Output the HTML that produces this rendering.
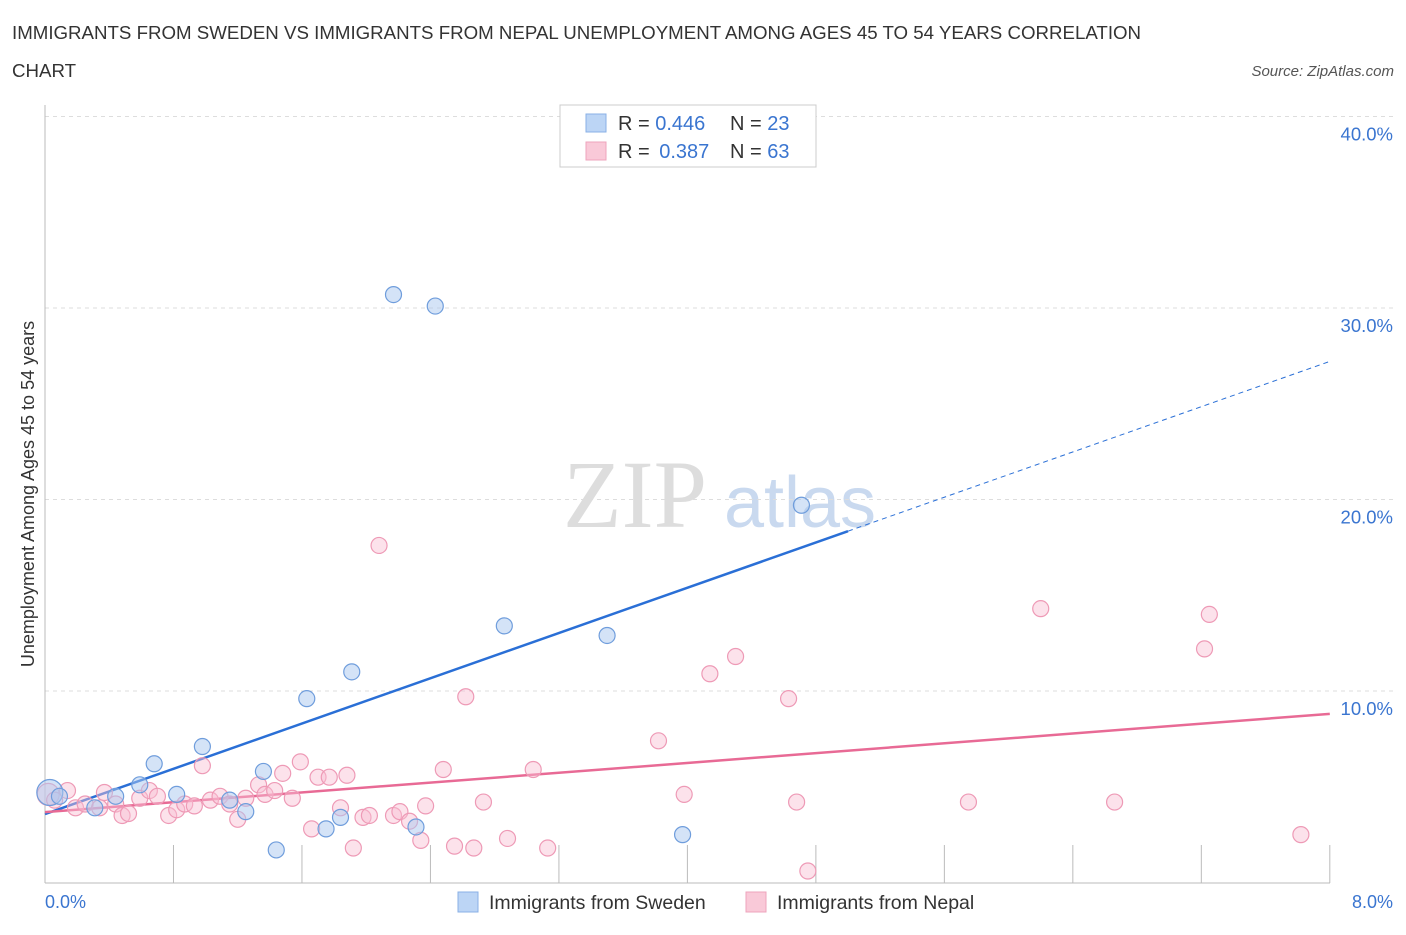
<!DOCTYPE html>
<html><head><meta charset="utf-8"><style>
body{margin:0;background:#fff;font-family:"Liberation Sans",sans-serif;}
</style></head><body>
<svg id="chart" width="1406" height="930" xmlns="http://www.w3.org/2000/svg">
<text x="12" y="39" font-size="18.7" fill="#333">IMMIGRANTS FROM SWEDEN VS IMMIGRANTS FROM NEPAL UNEMPLOYMENT AMONG AGES 45 TO 54 YEARS CORRELATION</text>
<text x="12" y="77" font-size="18.7" fill="#333">CHART</text>
<text x="1394" y="76" font-size="15" fill="#555" font-style="italic" text-anchor="end">Source: ZipAtlas.com</text>
<text x="635" y="527" font-size="96" fill="#ddd" font-family="Liberation Serif,serif" text-anchor="middle">ZIP</text>
<text x="800" y="527" font-size="72" fill="#c9d9ef" text-anchor="middle">atlas</text>
<g id="grid"></g><g id="axes"></g><g id="lines"></g><g id="pts"></g>
<text transform="translate(34,494) rotate(-90)" font-size="18" fill="#333" text-anchor="middle">Unemployment Among Ages 45 to 54 years</text>
<text x="45" y="908" font-size="18" fill="#3a75d0">0.0%</text>
<text x="1393" y="908" font-size="18" fill="#3a75d0" text-anchor="end">8.0%</text>
<g>
<rect x="560" y="105" width="256" height="62" fill="#fff" stroke="#ccc"/>
<rect x="586" y="114" width="20" height="18" fill="#bcd5f5" stroke="#8ab0e6"/>
<rect x="586" y="142" width="20" height="18" fill="#f9c9d8" stroke="#eea4bc"/>
<text x="618" y="130" font-size="20" fill="#333">R = <tspan fill="#3a75d0">0.446</tspan><tspan x="730">N = </tspan><tspan fill="#3a75d0">23</tspan></text>
<text x="618" y="158" font-size="20" fill="#333">R = <tspan fill="#3a75d0" dx="4">0.387</tspan><tspan x="730">N = </tspan><tspan fill="#3a75d0">63</tspan></text>
</g>
<g>
<rect x="458" y="892" width="20" height="20" fill="#bcd5f5" stroke="#8ab0e6"/>
<text x="489" y="909" font-size="19.5" fill="#333">Immigrants from Sweden</text>
<rect x="746" y="892" width="20" height="20" fill="#f9c9d8" stroke="#eea4bc"/>
<text x="777" y="909" font-size="19.5" fill="#333">Immigrants from Nepal</text>
</g>
</svg>
<script>
const yTicks=[10,20,30,40];
const swedenX=[0.03,0.09,0.31,0.44,0.59,0.68,0.82,0.98,1.15,1.25,1.36,1.44,1.63,1.75,1.84,1.91,2.17,2.31,2.43,2.86,3.50,3.97,4.71];
const swedenY=[4.7,4.5,3.9,4.5,5.1,6.2,4.6,7.1,4.3,3.7,5.8,1.7,9.6,2.8,3.4,11.0,30.7,2.9,30.1,13.4,12.9,2.5,19.7];
const nepalX=[0.02,0.06,0.14,0.19,0.25,0.34,0.37,0.44,0.48,0.52,0.59,0.65,0.70,0.77,0.82,0.87,0.93,0.98,1.03,1.09,1.15,1.20,1.25,1.33,1.37,1.43,1.48,1.54,1.59,1.66,1.70,1.77,1.84,1.88,1.92,1.98,2.02,2.08,2.17,2.21,2.27,2.34,2.37,2.48,2.55,2.62,2.67,2.73,2.88,3.04,3.13,3.82,3.98,4.14,4.30,4.63,4.68,4.75,5.75,6.20,6.66,7.22,7.25,7.82];
const nepalY=[4.6,4.3,4.8,3.9,4.1,3.9,4.7,4.1,3.5,3.6,4.4,4.8,4.5,3.5,3.8,4.1,4.0,6.1,4.3,4.5,4.1,3.3,4.4,5.1,4.6,4.8,5.7,4.4,6.3,2.8,5.5,5.5,3.9,5.6,1.8,3.4,3.5,17.6,3.5,3.7,3.2,2.2,4.0,5.9,1.9,9.7,1.8,4.2,2.3,5.9,1.8,7.4,4.6,10.9,11.8,9.6,4.2,0.6,4.2,14.3,4.2,12.2,14.0,2.5];
const sx=v=>45+v*160.6, sy=v=>882.5-v*19.15;
const NS="http://www.w3.org/2000/svg";
function mk(p,t,a){const e=document.createElementNS(NS,t);for(const k in a)e.setAttribute(k,a[k]);document.getElementById(p).appendChild(e);return e;}
yTicks.forEach(t=>{
 const l=mk('grid','line',{x1:45,x2:1395,y1:sy(t),y2:sy(t),stroke:'#ddd','stroke-dasharray':'4,4'});
 
 
 const tx=mk('grid','text',{x:1393,y:sy(t)+24,'font-size':18.5,fill:'#3a75d0','text-anchor':'end'});tx.textContent=t.toFixed(1)+'%';
 
 
});
let ax=mk('axes','line',{x1:45,x2:45,y1:105,y2:883,stroke:'#bbb'});


ax=mk('axes','line',{x1:45,x2:1330,y1:883,y2:883,stroke:'#bbb'});


for(let i=1;i<=10;i++){const xv=i*0.8;const t=mk('axes','line',{x1:sx(xv),x2:sx(xv),y1:845,y2:883,stroke:'#bbb'});
 
 }
function fit(X,Y){const n=X.length;const mx=X.reduce((a,b)=>a+b)/n,my=Y.reduce((a,b)=>a+b)/n;let sxy=0,sxx=0;for(let i=0;i<n;i++){sxy+=(X[i]-mx)*(Y[i]-my);sxx+=(X[i]-mx)**2;}const b=sxy/sxx;return[my-b*mx,b];}
const [ba,bb]=fit(swedenX,swedenY);
let l=mk('lines','line',{x1:sx(0),y1:sy(ba),x2:sx(5),y2:sy(ba+bb*5),stroke:'#2a6fd6','stroke-width':2.5});


l=mk('lines','line',{x1:sx(5),y1:sy(ba+bb*5),x2:sx(8),y2:sy(ba+bb*8),stroke:'#2a6fd6','stroke-width':1,'stroke-dasharray':'5,4'});


const [pa,pb]=fit(nepalX,nepalY);
l=mk('lines','line',{x1:sx(0),y1:sy(pa),x2:sx(8),y2:sy(pa+pb*8),stroke:'#e86a95','stroke-width':2.5});


nepalX.forEach((x,i)=>{const c=mk('pts','circle',{cx:sx(x),cy:sy(nepalY[i]),r:i==0?11:8,fill:'rgba(248,190,210,0.45)',stroke:'#ee9ab6','stroke-width':1.2});
 
 });
swedenX.forEach((x,i)=>{const c=mk('pts','circle',{cx:sx(x),cy:sy(swedenY[i]),r:i==0?13:8,fill:'rgba(170,200,240,0.5)',stroke:'#6f9ddc','stroke-width':1.2});
 
 });
</script>
</body></html>
